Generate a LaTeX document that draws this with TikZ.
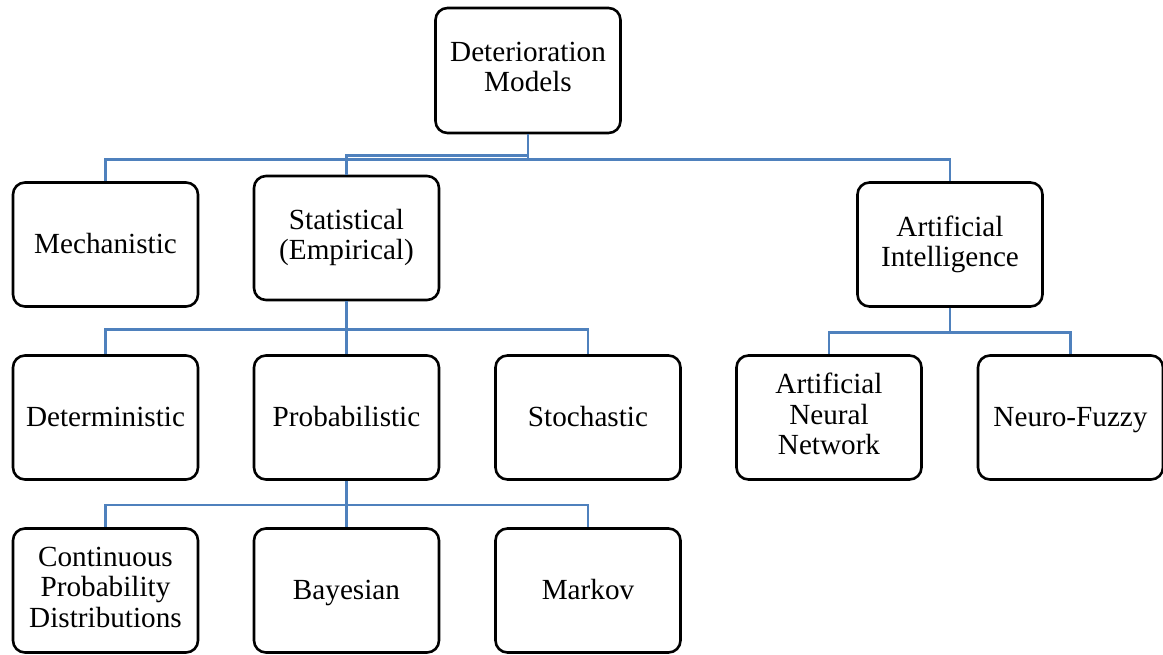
\documentclass[tikz,border=0pt]{standalone}
\usepackage{fontspec}
\setmainfont{Liberation Serif}
\usepackage{tikz}
\usetikzlibrary{positioning,calc}
\usepackage{xcolor}
\definecolor{linkblue}{HTML}{4F81BD}

\newcommand{\boxstrut}{\rule[-7pt]{0pt}{31pt}}

\tikzset{
    modelbox/.style={draw=black,line width=2.6pt,rounded corners=12pt,fill=white,
        minimum width=185pt,minimum height=124pt,inner sep=2pt,align=center,
        font=\fontsize{29.2}{30.5}\selectfont,
        execute at begin node=\boxstrut,execute at end node=\boxstrut},
    link/.style={draw=linkblue,line width=2.6pt}
}

\begin{document}
\begin{tikzpicture}[x=1pt,y=-1pt]
    % 画布
    \useasboundingbox (0,0) rectangle (1163,654);

    % 顶层
    \node[modelbox,minimum height=125pt] (top) at (528,70.5) {Deterioration\\Models};

    % 第二层
    \node[modelbox] (mech) at (105.5,244.5) {Mechanistic};
    \node[modelbox] (stat) at (346.5,238) {Statistical\\(Empirical)};
    \node[modelbox] (ai) at (950,244.5) {Artificial\\Intelligence};

    % 第三层
    \node[modelbox] (det) at (105.5,417.5) {Deterministic};
    \node[modelbox] (prob) at (346.5,417.5) {Probabilistic};
    \node[modelbox] (stoch) at (588,417.5) {Stochastic};
    \node[modelbox] (ann) at (829,417.5) {Artificial\\Neural\\Network};
    \node[modelbox] (fuzzy) at (1070.5,417.5) {Neuro-Fuzzy};

    % 第四层
    \node[modelbox] (cont) at (105.5,590.5) {Continuous\\Probability\\Distributions};
    \node[modelbox] (bayes) at (346.5,590.5) {Bayesian};
    \node[modelbox] (markov) at (588,590.5) {Markov};

    % 连线
    \draw[link] (top.south) -- ++(0,25) -| (mech.north);
    \draw[link] (top.south) -- ++(0,21) -| (stat.north);
    \draw[link] (top.south) -- ++(0,25) -| (ai.north);
    \draw[link] (stat.south) -- ++(0,28) -| (det.north);
    \draw[link] (stat.south) -- (prob.north);
    \draw[link] (stat.south) -- ++(0,28) -| (stoch.north);
    \draw[link] (ai.south) -- ++(0,24.5) -| (ann.north);
    \draw[link] (ai.south) -- ++(0,24.5) -| (fuzzy.north);
    \draw[link] (prob.south) -- ++(0,24) -| (cont.north);
    \draw[link] (prob.south) -- (bayes.north);
    \draw[link] (prob.south) -- ++(0,24) -| (markov.north);
\end{tikzpicture}
\end{document}
